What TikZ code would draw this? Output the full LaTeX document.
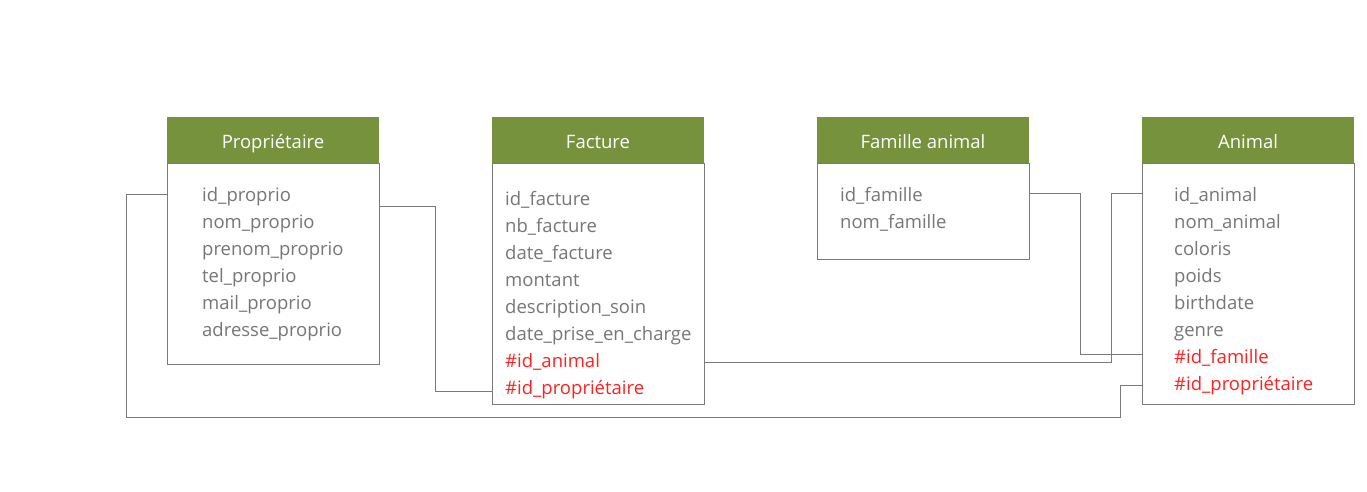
\documentclass[tikz,border=0pt]{standalone}
\usepackage{fontspec}
\setmainfont{Open Sans}
\usetikzlibrary{positioning}

\definecolor{headgreen}{HTML}{76923C}
\definecolor{fieldgray}{HTML}{767676}
\definecolor{fkred}{HTML}{FF2121}
\definecolor{linegray}{HTML}{7A7A7A}

\begin{document}
\begin{tikzpicture}[
  x=1pt, y=-1pt,
  node distance = 0pt and 0pt,
  head/.style = {
    rectangle,
    fill=headgreen,
    text=white,
    inner sep=0pt,
    minimum width=212pt,
    minimum height=46pt,
    text height=22pt,
    text depth=4pt,
    font=\fontsize{18.5}{22}\selectfont
  },
  body/.style = {
    rectangle,
    draw=linegray,
    line width=0.9pt,
    inner sep=0pt,
    minimum width=212pt,
    minimum height=#1
  },
  field/.style = {anchor=base west, inner sep=0pt, text=fieldgray,
    font=\fontsize{18.5}{22}\selectfont},
  fk/.style = {field, text=fkred},
  link/.style = {draw=linegray, line width=0.9pt},
  ]
  \useasboundingbox (0,0) rectangle (1367,492);

  % tables
  \node[head] (pro-head) at (273,140) {Propriétaire};
  \node[body=201pt, below=of pro-head] (pro-body) {};
  \node[head] (fac-head) at (598,140) {Facture};
  \node[body=241pt, below=of fac-head] (fac-body) {};
  \node[head] (fam-head) at (923,140) {Famille animal};
  \node[body=96pt, below=of fam-head] (fam-body) {};
  \node[head] (ani-head) at (1248,140) {Animal};
  \node[body=241pt, below=of ani-head] (ani-body) {};

  % fields
  \foreach \t [count=\i] in {id\_proprio, nom\_proprio, prenom\_proprio,
      tel\_proprio, mail\_proprio, adresse\_proprio}
    \node[field] (pro\i) at (202,174+27*\i) {\t};
  \foreach \t [count=\i] in {id\_facture, nb\_facture, date\_facture, montant,
      description\_soin, date\_prise\_en\_charge}
    \node[field] (fac\i) at (505,178+27*\i) {\t};
  \node[fk] (fac7) at (505,367) {\#id\_animal};
  \node[fk] (fac8) at (505,394) {\#id\_propriétaire};
  \foreach \t [count=\i] in {id\_famille, nom\_famille}
    \node[field] (fam\i) at (840,174+27*\i) {\t};
  \foreach \t [count=\i] in {id\_animal, nom\_animal, coloris, poids,
      birthdate, genre}
    \node[field] (ani\i) at (1174,174+27*\i) {\t};
  \node[fk] (ani7) at (1174,363) {\#id\_famille};
  \node[fk] (ani8) at (1174,390) {\#id\_propriétaire};

  % bends of the links
  \coordinate (bend1) at (126,417);
  \coordinate (bend2) at (1120,417);
  \coordinate (bend3) at (435,0);
  \coordinate (bend4) at (1111,0);
  \coordinate (bend5) at (1080,0);

  % links
  \draw[link] ([yshift=4pt]pro-body.west |- pro1.mid) -| (bend1) -- (bend2)
    |- ([yshift=2pt]ani-body.west |- ani8.mid);
  \draw[link] ([yshift=-8pt]pro-body.east |- pro1.mid) -| (bend3 |- fac8.mid)
    -- (fac-body.west |- fac8.mid);
  \draw[link] ([yshift=2pt]fac-body.east |- fac7.mid)
    -| ([yshift=5pt]bend4 |- ani1.mid) -- ([yshift=5pt]ani-body.west |- ani1.mid);
  \draw[link] ([yshift=5pt]fam-body.east |- fam1.mid)
    -| ([yshift=6pt]bend5 |- ani7.mid) -- ([yshift=6pt]ani-body.west |- ani7.mid);
\end{tikzpicture}
\end{document}
